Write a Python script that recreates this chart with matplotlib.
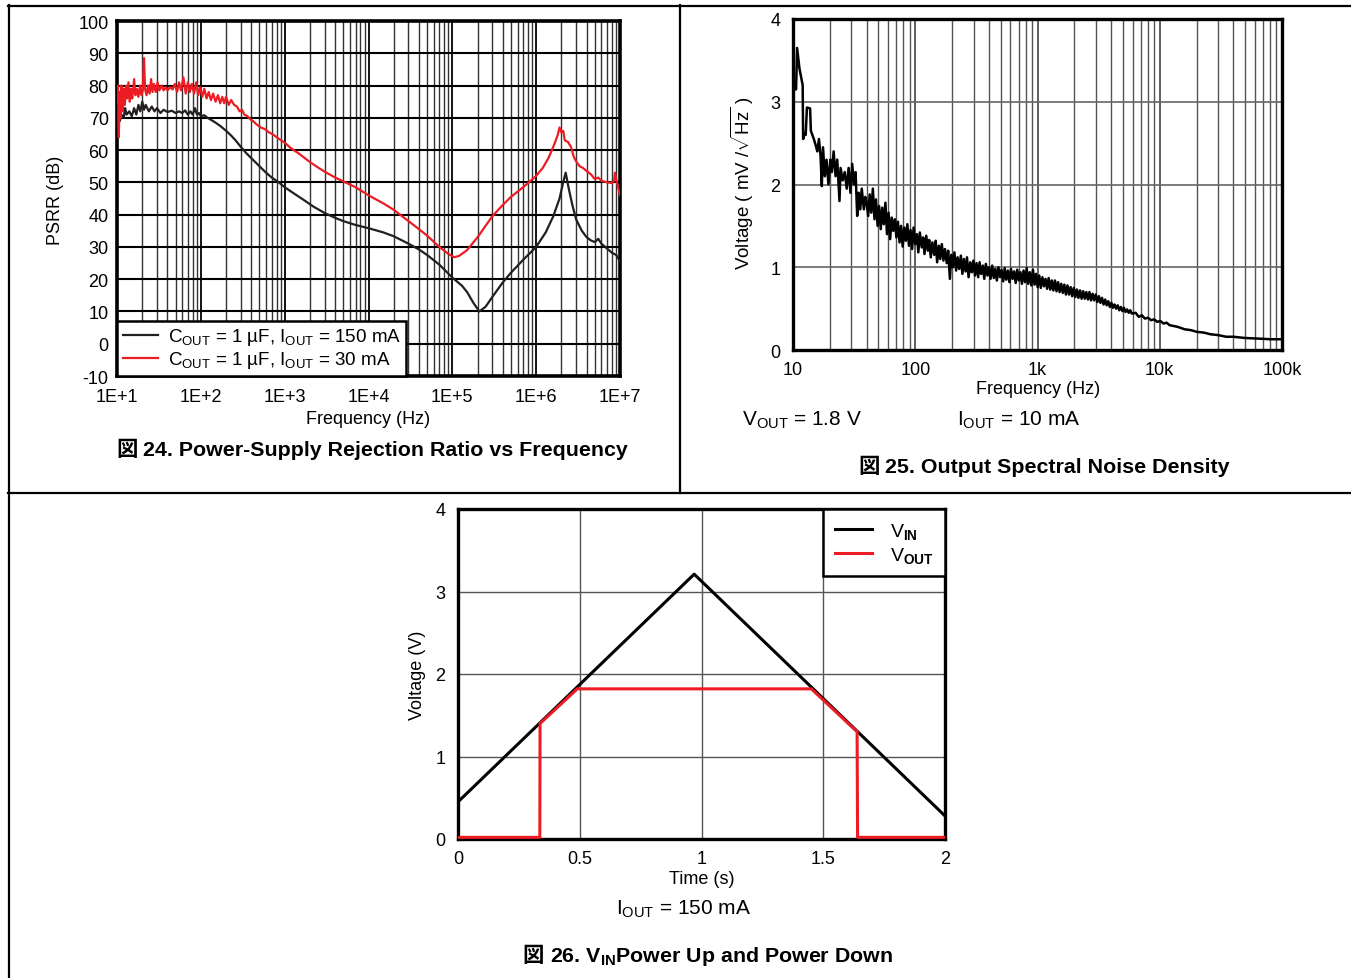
import matplotlib
matplotlib.use("Agg")
import matplotlib.pyplot as plt
from matplotlib.lines import Line2D
from matplotlib.ticker import FixedLocator, NullFormatter, LogLocator

plt.rcParams['font.family'] = ['Liberation Sans', 'Noto Sans CJK JP', 'DejaVu Sans']
plt.rcParams['mathtext.fontset'] = 'custom'
plt.rcParams['mathtext.rm'] = 'Liberation Sans'
plt.rcParams['mathtext.it'] = 'Liberation Sans:italic'
plt.rcParams['mathtext.bf'] = 'Liberation Sans:bold'
plt.rcParams['axes.unicode_minus'] = False

# ---------------- data: PSRR ----------------
psrr_ticks = [10, 100, 1e3, 1e4, 1e5, 1e6, 1e7]
psrr_ticklabels = ["1E+1", "1E+2", "1E+3", "1E+4", "1E+5", "1E+6", "1E+7"]
psrr_yticks = [-10, 0, 10, 20, 30, 40, 50, 60, 70, 80, 90, 100]

f_150 = [10, 10.4, 10.8, 11.3, 12, 12.5, 13, 14, 15, 16, 17, 18, 19, 20, 21, 22, 24, 26, 28, 30,
         33, 36, 40, 45, 50, 55, 60, 65, 70, 75, 80, 85, 90, 95, 100, 110, 120, 130, 150, 170,
         200, 230, 260, 300, 350, 400, 500, 600, 700, 850, 1000, 1300, 1700, 2200, 3000, 4000,
         5000, 7000, 1e4, 1.5e4, 2e4, 3e4, 4e4, 5e4, 7e4, 1e5, 1.3e5, 1.5e5, 1.8e5, 2.1e5, 2.5e5,
         3e5, 4e5, 5e5, 7e5, 1e6, 1.3e6, 1.6e6, 1.9e6, 2.1e6, 2.25e6, 2.45e6, 2.7e6, 3e6, 3.5e6,
         4e6, 4.5e6, 5e6, 5.5e6, 6e6, 7e6, 8e6, 9e6, 1e7]
p_150 = [68, 72, 69, 71, 70, 73, 71, 72, 70.5, 73, 71, 74, 72, 75, 72.5, 74, 72, 73.5, 72, 73,
         71.5, 72.5, 71.8, 72.2, 71.5, 72, 71.5, 72.3, 71, 72, 71, 73, 71, 71.5, 70.5, 70.8, 70, 69.5, 68.5, 67.5,
         66, 64.5, 63, 61, 59, 57.5, 55, 53, 51.5, 50, 48.5, 46.5, 44.5, 42.5, 40.5, 39,
         38, 36.8, 35.8, 34.5, 33.3, 31, 29.2, 27.5, 24.5, 20.5, 18, 16, 12.5, 10, 11.5,
         14.5, 19, 22, 26, 30, 34.5, 39.5, 45, 50, 53, 48, 43, 38.5, 35,
         33, 32, 31.5, 32.5, 31, 29.5, 28.2, 27.5, 25.5]

f_30 = [10, 10.3, 10.5, 10.8, 11, 11.3, 11.6, 12, 12.4, 12.8, 13.2, 13.7, 14.2, 14.7, 15.2, 16,
        16.6, 17.2, 18, 18.8, 19.6, 20.3, 21, 21.6, 22.5, 23.5, 24.5, 25.5, 26.5, 27.5, 29, 30.5,
        32, 34, 36, 38, 40, 43, 46, 49, 52, 55, 58, 62, 66, 70, 74, 78, 83, 88, 93, 98, 104, 110,
        117, 124, 132, 140, 150, 160, 170, 180, 190, 200, 215, 230, 250, 270, 290, 310, 330, 360,
        390, 420, 460, 520, 580, 650, 730, 840, 1000, 1200, 1500, 2000, 2500, 3000, 4000, 5000,
        7000, 1e4, 1.5e4, 2e4, 3e4, 4e4, 5e4, 7e4, 9e4, 1.05e5, 1.2e5, 1.5e5, 2e5, 3e5, 4e5, 5e5,
        7e5, 1e6, 1.2e6, 1.4e6, 1.6e6, 1.8e6, 1.9e6, 2e6, 2.1e6, 2.2e6, 2.4e6, 2.6e6, 2.8e6, 3e6,
        3.3e6, 3.6e6, 4e6, 4.5e6, 5e6, 5.5e6, 6e6, 7e6, 8e6, 8.5e6, 8.7e6, 9e6, 9.5e6, 1e7]
p_30 = [75, 80, 64, 78, 70, 80, 72, 79, 74, 80, 76, 81, 75, 79, 76, 82,
        77, 79, 76.5, 80, 77, 78.5, 88.5, 79, 77, 80, 77.5, 82, 78, 80.5, 78, 81,
        78.5, 80, 78.5, 79.5, 78.5, 79.5, 78.8, 80.5, 78, 81, 78.5, 82.5, 77.5, 81, 78, 80.5, 77.5, 81, 77, 79.5, 76.5, 79,
        76, 78, 75.5, 77.5, 75, 77, 74.5, 76.5, 74.5, 76.5, 74, 75.5, 74, 73.5, 72, 72.5, 71, 70.5,
        69.5, 69, 68, 67, 66.5, 65.5, 64.8, 63.6, 62.3, 60.5, 58.8, 56.3, 54.6, 53.3, 51.5, 50.3,
        48.5, 46, 43.5, 41.5, 38, 35.5, 33.5, 30, 27.8, 26.8, 27.2, 29, 33, 39.5, 43, 45.5,
        48.5, 52, 54.5, 57.5, 61, 64.5, 67, 65.5, 66, 63, 62.5, 61, 58, 56.5,
        55, 54.5, 53.5, 52.5, 51, 51.5, 50.5, 50, 49.8, 50.5, 53, 51, 48.5, 46]
psrr_labels = [r"C$_\mathregular{OUT}$ = 1 µF, I$_\mathregular{OUT}$ = 150 mA",
               r"C$_\mathregular{OUT}$ = 1 µF, I$_\mathregular{OUT}$ = 30 mA"]

# ---------------- data: noise ----------------
noise_ticks = [10, 100, 1e3, 1e4, 1e5]
noise_ticklabels = ["10", "100", "1k", "10k", "100k"]
noise_yticks = [0, 1, 2, 3, 4]
f_noise = [10, 10.6, 10.8, 11.3, 12.0, 12.1, 12.5, 12.7, 13.0, 13.8, 14.0, 14.8, 15.5, 15.8, 16.3,
           16.8, 17.2, 17.6, 18.2, 18.8, 19.5, 20.2, 20.8, 21.5, 22.3, 23.0, 24.0, 24.5, 25.5, 26.5,
           27.5, 28.5, 29.5, 30.5, 31.5, 32.5, 33.5, 34.5, 35.5, 36.5, 38, 39.0,
           40, 41.2, 42.4, 43.7, 45.0, 46.4, 47.7, 49.2, 50.6, 52.2,
           53.7, 55.3, 57.0, 58.7, 60.5, 62.3, 64.2, 66.1, 68.1, 70.1,
           72.2, 74.4, 76.6, 78.9, 81.3, 83.7, 86.2, 88.8, 91.5, 94.2,
           97.0, 100, 103, 106, 109, 113, 116, 119, 123, 127,
           130, 134, 138, 143, 147, 151, 156, 160, 165, 170,
           175, 181, 186, 192, 197, 203, 209, 216, 222, 229,
           236, 243, 250, 258, 265, 273, 282, 290, 299, 308,
           317, 327, 336, 346, 357, 367, 378, 390, 401, 413,
           426, 439, 452, 465, 479, 494, 508, 524, 539, 555,
           572, 589, 607, 625, 644, 663, 683, 704, 725, 746,
           769, 792, 816, 840, 865, 891, 918, 946, 974, 1003,
           1033, 1064, 1096, 1129, 1163, 1198, 1234, 1271, 1309, 1348,
           1389, 1430, 1473, 1517, 1563, 1610, 1658, 1708, 1759, 1812,
           1866, 1922, 1980, 2039, 2100, 2163, 2228, 2295, 2364, 2435,
           2508, 2583, 2660, 2740, 2822, 2907, 2994, 3084, 3177, 3272,
           3370, 3471, 3575, 3683, 3793, 3907, 4024, 4145, 4269, 4397,
           4529, 4665, 4805, 4949, 5098, 5251, 5408, 5570, 5737, 5910,
           6348, 6729, 7133, 7561, 8014, 8495, 9005, 9545, 10118, 10725, 11368, 12050,
           14000, 16000, 18000, 20000, 23000, 26000, 30000, 35000, 40000, 50000, 60000, 70000,
           80000, 90000, 100000]
v_noise = [3.15, 3.15, 3.65, 3.4, 3.2, 2.55, 2.62, 2.60, 2.93, 2.92, 2.65, 2.55, 2.45, 2.40, 2.55,
           2.35, 1.98, 2.45, 2.1, 2.3, 2.0, 2.3, 2.15, 2.4, 2.1, 2.3, 1.8, 2.2, 2.05, 2.15,
           1.95, 2.2, 1.9, 2.25, 2.0, 2.15, 1.62, 1.9, 1.7, 1.95, 1.7, 1.85,
           1.78, 1.62, 1.88, 1.66, 1.95, 1.58, 1.82, 1.50, 1.74, 1.46,
           1.72, 1.52, 1.78, 1.40, 1.66, 1.34, 1.60, 1.44, 1.58, 1.36,
           1.55, 1.30, 1.50, 1.25, 1.48, 1.32, 1.52, 1.26, 1.45, 1.22,
           1.48, 1.28, 1.40, 1.18, 1.42, 1.24, 1.36, 1.16, 1.38, 1.20,
           1.33, 1.12, 1.30, 1.15, 1.32, 1.06, 1.26, 1.10, 1.28, 1.08,
           1.22, 1.05, 1.20, 0.86, 1.15, 1.00, 1.18, 0.96, 1.12, 0.98,
           1.14, 0.92, 1.10, 0.95, 1.12, 0.88, 1.06, 0.94, 1.08, 0.90,
           1.05, 0.88, 1.06, 0.92, 1.02, 0.86, 1.04, 0.90, 1.00, 0.86,
           1.02, 0.87, 0.98, 0.84, 1.00, 0.88, 0.97, 0.83, 0.99, 0.85,
           0.96, 0.82, 0.98, 0.86, 0.95, 0.81, 0.97, 0.84, 0.94, 0.80,
           0.96, 0.82, 0.99, 0.80, 0.94, 0.78, 0.97, 0.79, 0.92, 0.76,
           0.90, 0.75, 0.88, 0.77, 0.86, 0.74, 0.87, 0.73, 0.84, 0.72,
           0.84, 0.71, 0.82, 0.70, 0.80, 0.69, 0.79, 0.67, 0.78, 0.67,
           0.76, 0.65, 0.75, 0.64, 0.73, 0.63, 0.72, 0.62, 0.71, 0.62,
           0.70, 0.61, 0.70, 0.60, 0.68, 0.60, 0.67, 0.58, 0.65, 0.57,
           0.63, 0.55, 0.61, 0.54, 0.59, 0.52, 0.57, 0.51, 0.55, 0.50,
           0.54, 0.48, 0.52, 0.47, 0.51, 0.46, 0.49, 0.45, 0.48, 0.44,
           0.45, 0.40, 0.42, 0.38, 0.39, 0.36, 0.37, 0.34, 0.35, 0.32, 0.33, 0.30,
           0.28, 0.25, 0.24, 0.22, 0.21, 0.19, 0.18, 0.16, 0.16, 0.145, 0.14, 0.135,
           0.13, 0.13, 0.13]

# ---------------- data: power up / down ----------------
t_vin = [0.0, 0.97, 2.0]
v_vin = [0.45, 3.21, 0.28]
t_vout = [0.0, 0.336, 0.337, 0.49, 1.451, 1.639, 1.641, 2.0]
v_vout = [0.02, 0.02, 1.40, 1.82, 1.82, 1.30, 0.02, 0.02]
pw_xticks = [0, 0.5, 1, 1.5, 2]
pw_xticklabels = ["0", "0.5", "1", "1.5", "2"]
pw_yticks = [0, 1, 2, 3, 4]

BLACK = '#231f20'
RED = '#ed1c24'
W, H = 1351, 979

fig = plt.figure(figsize=(W / 100, H / 100), dpi=100)


def rect(l, t, r, b):
    return [l / W, 1 - b / H, (r - l) / W, (b - t) / H]


def fx(x):
    return x / W


def fy(y):
    return 1 - y / H


# panel borders
for (x0, y0, x1, y1) in [(8, 6.5, 1351, 6.5), (8.5, 6, 8.5, 979), (679.5, 6, 679.5, 494),
                         (8, 494, 1351, 494)]:
    fig.add_artist(Line2D([fx(x0), fx(x1)], [fy(y0), fy(y1)], color='black', lw=1.6))

TICK = 13

# ================= PSRR =================
ax1 = fig.add_axes(rect(117, 22, 620, 377))
ax1.semilogx(f_150, p_150, color=BLACK, lw=1.6, label=psrr_labels[0], zorder=3)
ax1.semilogx(f_30, p_30, color=RED, lw=1.6, label=psrr_labels[1], zorder=3)
ax1.set_xlim(10, 1e7)
ax1.set_ylim(-10, 100)
ax1.xaxis.set_major_locator(FixedLocator(psrr_ticks))
ax1.set_xticklabels(psrr_ticklabels)
ax1.xaxis.set_minor_locator(LogLocator(base=10, subs=range(2, 10), numticks=20))
ax1.xaxis.set_minor_formatter(NullFormatter())
ax1.set_yticks(psrr_yticks)
ax1.grid(which='major', axis='y', color='black', lw=1.5)
ax1.grid(which='major', axis='x', color='black', lw=1.3)
ax1.grid(which='minor', axis='x', color='#333333', lw=1.0)
ax1.tick_params(which='both', length=0)
ax1.tick_params(axis='x', pad=9, labelsize=TICK)
ax1.tick_params(axis='y', pad=6, labelsize=TICK)
for s in ax1.spines.values():
    s.set_linewidth(2.6)
leg1 = ax1.legend(loc='lower left', bbox_to_anchor=(0, 0), borderaxespad=0, fancybox=False,
                  edgecolor='black', framealpha=1, fontsize=13.5, handlelength=1.9,
                  handletextpad=0.5, labelspacing=0.1, borderpad=0.3)
leg1.get_frame().set_linewidth(1.8)
leg1.set_zorder(5)
fig.text(fx(55), fy(200), "PSRR (dB)", rotation=90, ha='center', va='center', fontsize=13)
fig.text(fx(368), fy(420), "Frequency (Hz)", ha='center', va='center', fontsize=13)

# ================= Noise =================
ax2 = fig.add_axes(rect(793, 20, 1282, 351))
ax2.semilogx(f_noise, v_noise, color='black', lw=1.8, zorder=3)
ax2.set_xlim(10, 1e5)
ax2.set_ylim(0, 4)
ax2.xaxis.set_major_locator(FixedLocator(noise_ticks))
ax2.set_xticklabels(noise_ticklabels)
ax2.xaxis.set_minor_locator(LogLocator(base=10, subs=range(2, 10), numticks=20))
ax2.xaxis.set_minor_formatter(NullFormatter())
ax2.set_yticks(noise_yticks)
ax2.grid(which='major', axis='y', color='#666666', lw=1.2)
ax2.grid(which='major', axis='x', color='#444444', lw=1.2)
ax2.grid(which='minor', axis='x', color='#555555', lw=1.0)
ax2.tick_params(which='both', length=0)
ax2.tick_params(axis='x', pad=8, labelsize=TICK)
ax2.tick_params(axis='y', pad=9, labelsize=TICK)
for s in ax2.spines.values():
    s.set_linewidth(2.4)
fig.text(fx(742), fy(183), r"Voltage ( mV /$\sqrt{\mathregular{Hz}}$ )", rotation=90,
         ha='center', va='center', fontsize=13.5)
fig.text(fx(1038), fy(390), "Frequency (Hz)", ha='center', va='center', fontsize=13)
fig.text(fx(742), fy(426), r"V$_\mathregular{OUT}$ = 1.8 V", ha='left', va='baseline', fontsize=15)
fig.text(fx(957), fy(426), r"I$_\mathregular{OUT}$ = 10 mA", ha='left', va='baseline', fontsize=15)

# ================= Power up/down =================
ax3 = fig.add_axes(rect(458, 510, 945, 840))
ax3.plot(t_vin, v_vin, color='black', lw=2.2, label=r"V$_\mathbf{IN}$", zorder=3)
ax3.plot(t_vout, v_vout, color=RED, lw=2.2, label=r"V$_\mathbf{OUT}$", zorder=4)
ax3.set_xlim(0, 2)
ax3.set_ylim(0, 4)
ax3.set_xticks(pw_xticks)
ax3.set_xticklabels(pw_xticklabels)
ax3.set_yticks(pw_yticks)
ax3.grid(which='major', axis='both', color='#555555', lw=1.0)
ax3.tick_params(which='both', length=0)
ax3.tick_params(axis='x', pad=8, labelsize=TICK)
ax3.tick_params(axis='y', pad=9, labelsize=TICK)
for s in ax3.spines.values():
    s.set_linewidth(2.4)
leg3 = ax3.legend(loc='upper right', bbox_to_anchor=(1, 1), borderaxespad=0, fancybox=False,
                  edgecolor='black', framealpha=1, fontsize=14, handlelength=1.9,
                  handletextpad=0.9, labelspacing=0.2, borderpad=0.6)
leg3.get_frame().set_linewidth(1.8)
fig.text(fx(417), fy(675), "Voltage (V)", rotation=90, ha='center', va='center', fontsize=13)
fig.text(fx(702), fy(880), "Time (s)", ha='center', va='center', fontsize=13)
fig.text(fx(684), fy(915), r"I$_\mathregular{OUT}$ = 150 mA", ha='center', va='baseline', fontsize=15)

# ================= titles =================
fig.canvas.draw()
renderer = fig.canvas.get_renderer()


def title(cx, yb, rest):
    a = fig.text(0, fy(yb), "図", ha='left', va='baseline', fontsize=15.4,
                 family=['Noto Sans CJK JP'], weight='bold')
    b = fig.text(0, fy(yb), rest, ha='left', va='baseline', fontsize=15.4, weight='bold')
    wa = a.get_window_extent(renderer).width
    wb = b.get_window_extent(renderer).width
    gap = 6
    x0 = cx - (wa + gap + wb) / 2
    a.set_x(fx(x0))
    b.set_x(fx(x0 + wa + gap))


title(372, 456, "24. Power-Supply Rejection Ratio vs Frequency")
title(1044, 473, "25. Output Spectral Noise Density")
title(708, 962, r"26. V$_\mathbf{IN}$Power Up and Power Down")

fig.savefig("out.png", dpi=100)
